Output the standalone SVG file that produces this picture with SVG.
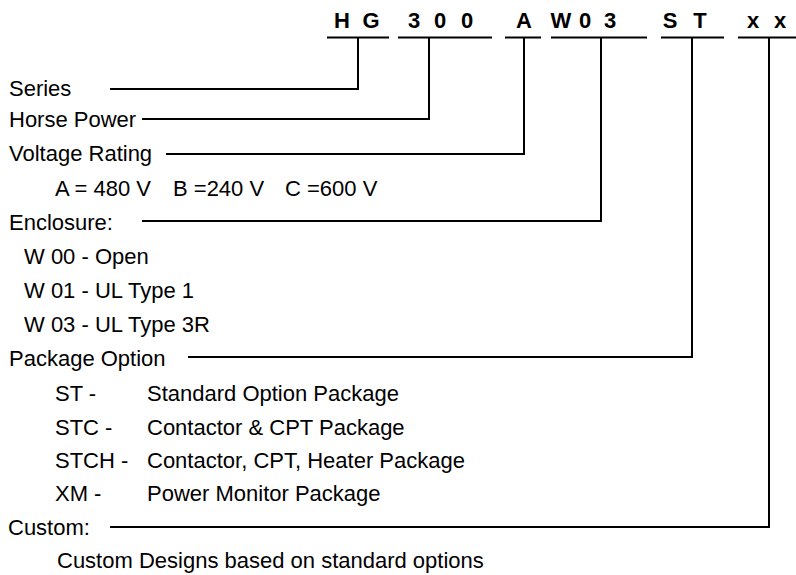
<svg xmlns="http://www.w3.org/2000/svg" width="796" height="575" viewBox="0 0 796 575">
<style>
.t{font-family:"Liberation Sans",Arial,sans-serif;font-size:22px;fill:#000}
.h{font-family:"Liberation Sans",Arial,sans-serif;font-size:22px;font-weight:bold;fill:#000;text-anchor:middle}
.c{fill:none;stroke:#000;stroke-width:2}
</style>
<rect width="796" height="575" fill="#fff"/>
<g id="code">
<text class="h" x="342" y="28">H</text><text class="h" x="371" y="28">G</text>
<text class="h" x="414" y="28">3</text><text class="h" x="440" y="28">0</text><text class="h" x="467" y="28">0</text>
<text class="h" x="524" y="28">A</text>
<text class="h" x="561" y="28">W</text><text class="h" x="585" y="28">0</text><text class="h" x="610" y="28">3</text>
<text class="h" x="670" y="28">S</text><text class="h" x="700" y="28">T</text>
<text class="h" x="753" y="28">x</text><text class="h" x="780" y="28">x</text>
</g>
<g id="connectors">
<path class="c" d="M327,37.5H389M398,37.5H492M505,37.5H541M551,37.5H647M661,37.5H724M738,37.5H796"/>
<path class="c" d="M110,89H358V37"/>
<path class="c" d="M142,119H429V37"/>
<path class="c" d="M166,154H524V37"/>
<path class="c" d="M142,221H601V37"/>
<path class="c" d="M188,357H692V37"/>
<path class="c" d="M110,527H769V37"/>
</g>
<g id="series"><text class="t" x="9" y="96">Series</text></g>
<g id="horsepower"><text class="t" x="9" y="127">Horse Power</text></g>
<g id="voltage"><text class="t" x="9" y="161">Voltage Rating</text>
<text class="t" x="55" y="196">A = 480 V</text><text class="t" x="173" y="196">B =240 V</text><text class="t" x="285" y="196">C =600 V</text></g>
<g id="enclosure"><text class="t" x="9" y="230">Enclosure:</text>
<text class="t" x="24" y="264">W 00 - Open</text>
<text class="t" x="24" y="298">W 01 - UL Type 1</text>
<text class="t" x="24" y="332">W 03 - UL Type 3R</text></g>
<g id="package"><text class="t" x="9" y="366">Package Option</text>
<text class="t" x="55" y="401">ST -</text><text class="t" x="147" y="401">Standard Option Package</text>
<text class="t" x="55" y="435">STC -</text><text class="t" x="147" y="435">Contactor &amp; CPT Package</text>
<text class="t" x="55" y="468">STCH -</text><text class="t" x="147" y="468">Contactor, CPT, Heater Package</text>
<text class="t" x="55" y="501">XM -</text><text class="t" x="147" y="501">Power Monitor Package</text></g>
<g id="custom"><text class="t" x="8" y="535">Custom:</text>
<text class="t" x="57" y="568">Custom Designs based on standard options</text></g>
</svg>
